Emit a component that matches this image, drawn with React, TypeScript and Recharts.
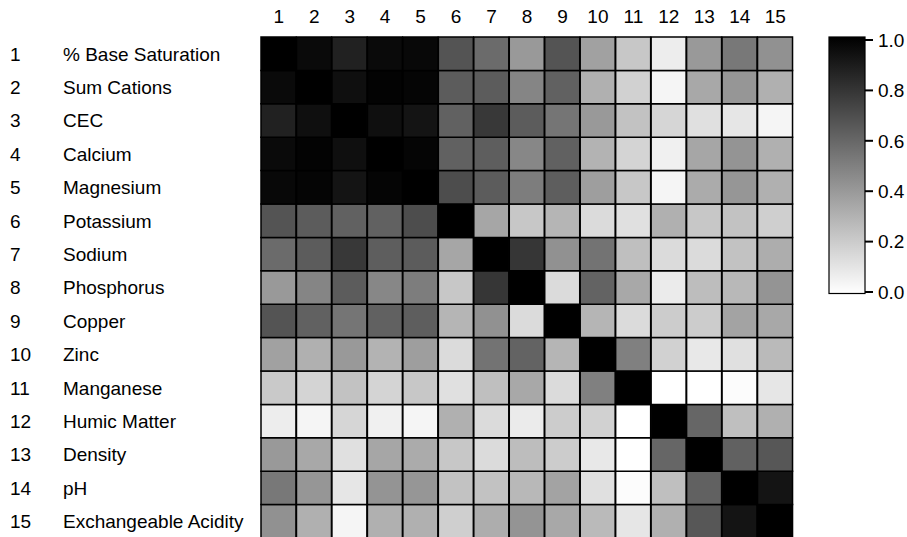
import React from 'react';
import { BarChart, Bar, XAxis, YAxis, Cell } from 'recharts';

const columnLabels = ['1', '2', '3', '4', '5', '6', '7', '8', '9', '10', '11', '12', '13', '14', '15'];
const variableNames = [
  '% Base Saturation', 'Sum Cations', 'CEC', 'Calcium', 'Magnesium', 'Potassium', 'Sodium',
  'Phosphorus', 'Copper', 'Zinc', 'Manganese', 'Humic Matter', 'Density', 'pH', 'Exchangeable Acidity',
];

const baseSaturation = [1.00, 0.96, 0.87, 0.96, 0.97, 0.67, 0.58, 0.40, 0.67, 0.37, 0.22, 0.07, 0.40, 0.53, 0.43];
const sumCations = [0.96, 1.00, 0.94, 0.99, 0.98, 0.64, 0.64, 0.48, 0.62, 0.31, 0.18, 0.04, 0.34, 0.41, 0.31];
const cec = [0.87, 0.94, 1.00, 0.94, 0.92, 0.62, 0.78, 0.64, 0.54, 0.40, 0.24, 0.16, 0.12, 0.10, 0.04];
const calcium = [0.96, 0.99, 0.94, 1.00, 0.98, 0.62, 0.63, 0.47, 0.62, 0.30, 0.17, 0.06, 0.35, 0.42, 0.31];
const magnesium = [0.97, 0.98, 0.92, 0.98, 1.00, 0.70, 0.64, 0.51, 0.63, 0.38, 0.22, 0.04, 0.33, 0.41, 0.31];
const potassium = [0.67, 0.64, 0.62, 0.62, 0.70, 1.00, 0.35, 0.22, 0.29, 0.14, 0.12, 0.31, 0.22, 0.24, 0.19];
const sodium = [0.58, 0.64, 0.78, 0.63, 0.64, 0.35, 1.00, 0.79, 0.43, 0.55, 0.25, 0.14, 0.14, 0.24, 0.32];
const phosphorus = [0.40, 0.48, 0.64, 0.47, 0.51, 0.22, 0.79, 1.00, 0.14, 0.61, 0.34, 0.08, 0.26, 0.28, 0.42];
const copper = [0.67, 0.62, 0.54, 0.62, 0.63, 0.29, 0.43, 0.14, 1.00, 0.29, 0.14, 0.20, 0.20, 0.36, 0.34];
const zinc = [0.37, 0.31, 0.40, 0.30, 0.38, 0.14, 0.55, 0.61, 0.29, 1.00, 0.50, 0.18, 0.09, 0.12, 0.27];
const manganese = [0.21, 0.17, 0.24, 0.17, 0.22, 0.12, 0.25, 0.34, 0.14, 0.50, 1.00, 0.00, 0.00, 0.01, 0.10];
const humicMatter = [0.07, 0.04, 0.16, 0.06, 0.04, 0.31, 0.14, 0.08, 0.20, 0.18, 0.00, 1.00, 0.60, 0.25, 0.31];
const density = [0.40, 0.34, 0.12, 0.35, 0.33, 0.22, 0.14, 0.26, 0.20, 0.09, 0.00, 0.60, 1.00, 0.62, 0.66];
const pH = [0.53, 0.41, 0.10, 0.42, 0.41, 0.24, 0.24, 0.28, 0.36, 0.12, 0.01, 0.25, 0.62, 1.00, 0.92];
const exchangeableAcidity = [0.43, 0.31, 0.04, 0.31, 0.31, 0.19, 0.32, 0.42, 0.34, 0.27, 0.10, 0.31, 0.66, 0.92, 1.00];

const colorbarTicks = [0, 0.2, 0.4, 0.6, 0.8, 1.0];

const matrix = [
  baseSaturation, sumCations, cec, calcium, magnesium, potassium, sodium, phosphorus,
  copper, zinc, manganese, humicMatter, density, pH, exchangeableAcidity,
];

const N = matrix.length;
const gray = (v: number) => {
  const g = Math.round(255 * (1 - Math.max(0, Math.min(1, v))));
  return `rgb(${g},${g},${g})`;
};

// each column is a category; each row is a stacked unit segment
const heatData = columnLabels.map((c, j) => {
  const o: any = { col: c };
  for (let i = 0; i < N; i++) o[`r${i}`] = 1;
  return o;
});

// rows drawn bottom-up: row N-1 first
const stackOrder = Array.from({ length: N }, (_, k) => N - 1 - k);
const rowTicks = Array.from({ length: N }, (_, i) => N - i - 0.5);

const FONT = '"Liberation Sans", Arial, Helvetica, sans-serif';
const FS = 19;

const XTick = (props: any) => {
  const { x, y, payload } = props;
  return (
    <text x={x} y={y - 6} textAnchor="middle" fontSize={FS} fill="#000" fontFamily={FONT}>
      {payload.value}
    </text>
  );
};

const YTick = (props: any) => {
  const { y, payload } = props;
  const i = Math.round(N - 0.5 - payload.value);
  return (
    <g>
      <text x={10} y={y} dy="0.36em" fontSize={FS} fill="#000" fontFamily={FONT}>
        {String(i + 1)}
      </text>
      <text x={63} y={y} dy="0.36em" fontSize={FS} fill="#000" fontFamily={FONT}>
        {variableNames[i]}
      </text>
    </g>
  );
};

const ColorbarShape = (props: any) => {
  const { x, y, width, height } = props;
  return (
    <rect x={x} y={y - 3} width={width} height={height + 4.5} fill="url(#cbGrad)" stroke="#000" strokeWidth={1.2} />
  );
};

const colorbarData = [{ name: 'scale', value: 1 }];

export default function App() {
  return (
    <div style={{ position: 'fixed', left: 0, top: 0, width: 907, height: 537, overflow: 'hidden', background: '#fff', fontFamily: FONT }}>
      <div style={{ position: 'absolute', left: 0, top: 0 }}>
        <BarChart
          width={907}
          height={540}
          data={heatData}
          margin={{ top: 7, right: 114, bottom: 2, left: 0 }}
          barCategoryGap={0}
          barGap={0}
        >
          <XAxis
            dataKey="col"
            type="category"
            orientation="top"
            height={30}
            axisLine={false}
            tickLine={false}
            interval={0}
            tick={<XTick />}
          />
          <YAxis
            type="number"
            domain={[0, N]}
            ticks={rowTicks}
            width={261}
            axisLine={false}
            tickLine={false}
            interval={0}
            tick={<YTick />}
          />
          {stackOrder.map((i) => (
            <Bar key={i} dataKey={`r${i}`} stackId="m" isAnimationActive={false} stroke="#000" strokeWidth={1.5}>
              {heatData.map((_, j) => (
                <Cell key={j} fill={gray(matrix[i][j])} />
              ))}
            </Bar>
          ))}
        </BarChart>
      </div>
      <div style={{ position: 'absolute', left: 0, top: 0 }}>
        <BarChart
          width={907}
          height={537}
          data={colorbarData}
          margin={{ top: 40, right: 0, bottom: 245, left: 829 }}
          barCategoryGap={0}
        >
          <defs>
            <linearGradient id="cbGrad" x1="0" y1="0" x2="0" y2="1">
              <stop offset="0%" stopColor="#000" />
              <stop offset="100%" stopColor="#fff" />
            </linearGradient>
          </defs>
          <XAxis dataKey="name" hide />
          <YAxis
            type="number"
            orientation="right"
            domain={[0, 1]}
            ticks={colorbarTicks}
            width={42}
            axisLine={false}
            tickSize={8}
            tickMargin={5}
            tickLine={{ stroke: '#000', strokeWidth: 2 }}
            tick={{ fill: '#000', fontSize: 19, fontFamily: FONT }}
            tickFormatter={(v: number) => v.toFixed(1)}
            interval={0}
          />
          <Bar dataKey="value" isAnimationActive={false} shape={<ColorbarShape />} />
        </BarChart>
      </div>
    </div>
  );
}
